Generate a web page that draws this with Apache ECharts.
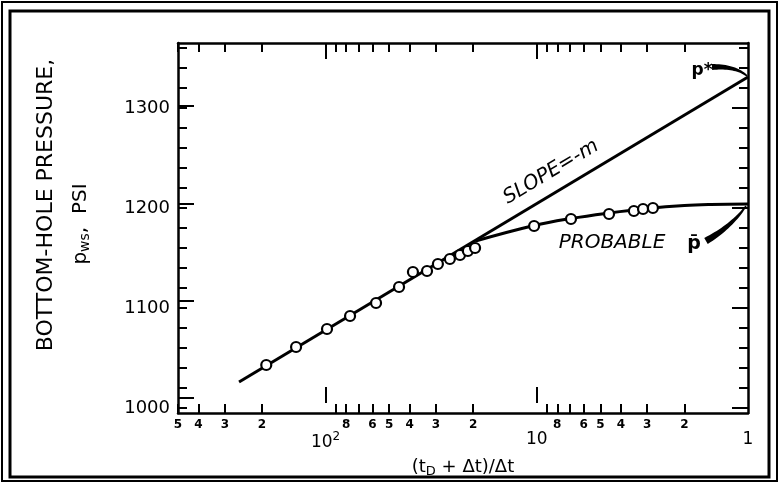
<!DOCTYPE html>
<html><head><meta charset="utf-8">
<script src="https://cdn.jsdelivr.net/npm/echarts@6/dist/echarts.min.js"></script>
<style>html,body{margin:0;padding:0;background:#fff}#c{width:779px;height:483px}</style>
</head><body><div id="c"></div>
<script>
// ---- data ----
const pointX = [191, 138, 98.5, 76.6, 57.7, 44.9, 38.6, 33.1, 29.4, 25.8, 23.1, 21.2, 19.6, 10.3, 6.89, 4.55, 3.47, 3.14, 2.82];
const pointY = [1043, 1061, 1079, 1092, 1105, 1121, 1136, 1137, 1144, 1149, 1153, 1157, 1160, 1182, 1189, 1194, 1197, 1199, 1200];
const slopeLineX = [257, 1];
const slopeLineY = [1026, 1331];
const probableX = [19.5, 10.3, 6.9, 4.55, 3.0, 2.0, 1.5, 1];
const probableY = [1167, 1182.5, 1189.5, 1195, 1199.5, 1202.5, 1203.5, 1204];
const xMinorTicks = [500, 400, 300, 200, 90, 80, 70, 60, 50, 40, 30, 20, 9, 8, 7, 6, 5, 4, 3, 2];
const xMinorLabels = [500, 400, 300, 200, 80, 60, 50, 40, 30, 20, 8, 6, 5, 4, 3, 2];
const xMajorTicks = [100, 10];
const xMajorLabels = [100, 10, 1];
const yMinorTicks = [1000, 1020, 1040, 1060, 1080, 1100, 1120, 1140, 1160, 1180, 1200, 1220, 1240, 1260, 1280, 1300, 1320, 1340, 1360];
const yMajorTicks = [1000, 1100, 1200, 1300];
const yLabels = [1000, 1100, 1200, 1300];
const pStar = [1, 1331];
const pBar = [1, 1204];

const ink = '#000';
const FONT = 'DejaVu Sans';
const chart = echarts.init(document.getElementById('c'));
const G = {left: 178, top: 43, width: 570, height: 370, containLabel: false};
const grids = [0, 1, 2, 3].map(() => Object.assign({}, G));

function leadDigit(v) {
  const e = Math.floor(Math.log10(v) + 1e-9);
  return String(Math.round(v / Math.pow(10, e)));
}
function decadeFmt(v) {
  const r = Math.round(v);
  if (r === 100) return '{b|10}{sup|2}';
  return '{b|' + r + '}';
}
const tickLine = {color: ink, width: 2};
function xAx(idx, pos, line, tickVals, len, label) {
  return {
    type: 'log', logBase: 10, min: 1, max: 500, inverse: true, gridIndex: idx, position: pos,
    axisLine: {show: line, lineStyle: {color: ink, width: 2.5}},
    axisTick: {show: true, inside: true, length: len, customValues: tickVals, lineStyle: tickLine},
    axisLabel: label || {show: false},
    splitLine: {show: false}, minorTick: {show: false}, minorSplitLine: {show: false}
  };
}
function yAx(idx, pos, line, tickVals, len, label) {
  return {
    type: 'value', min: 995, max: 1365, gridIndex: idx, position: pos,
    axisLine: {show: line, lineStyle: {color: ink, width: 2.5}},
    axisTick: {show: true, inside: true, length: len, customValues: tickVals, lineStyle: tickLine},
    axisLabel: label || {show: false},
    splitLine: {show: false}
  };
}

const option = {
  animation: false,
  backgroundColor: '#fff',
  grid: grids,
  xAxis: [
    xAx(0, 'bottom', true, xMinorTicks, 9, {show: true, customValues: xMinorLabels, formatter: leadDigit, margin: 6,
      fontSize: 12, fontWeight: 'bold', color: ink, fontFamily: FONT}),
    Object.assign(xAx(1, 'bottom', false, xMajorTicks, 16, {show: true, customValues: xMajorLabels, formatter: decadeFmt, margin: 28,
      rich: {b: {fontSize: 17, color: ink, fontFamily: FONT}, sup: {fontSize: 12, color: ink, fontFamily: FONT, padding: [0, 0, 12, 0]}}}),
      {name: '(t{s|D} + Δt)/Δt', nameLocation: 'middle', nameGap: 54,
       nameTextStyle: {fontSize: 18, color: ink, fontFamily: FONT, rich: {s: {fontSize: 13, color: ink, fontFamily: FONT, padding: [8, 0, 0, 0]}}}}),
    xAx(2, 'top', true, xMinorTicks, 9),
    xAx(3, 'top', false, xMajorTicks, 16)
  ],
  yAxis: [
    yAx(0, 'left', true, yMinorTicks, 9, {show: true, customValues: yLabels, formatter: v => String(Math.round(v)), margin: 8, fontSize: 18, color: ink, fontFamily: FONT}),
    yAx(1, 'left', false, yMajorTicks, 16),
    yAx(2, 'right', true, yMinorTicks, 9),
    yAx(3, 'right', false, yMajorTicks, 16)
  ],
  series: [
    {type: 'line', xAxisIndex: 0, yAxisIndex: 0, data: slopeLineX.map((x, i) => [x, slopeLineY[i]]),
     showSymbol: false, lineStyle: {color: ink, width: 3}, z: 2},
    {type: 'line', xAxisIndex: 0, yAxisIndex: 0, data: probableX.map((x, i) => [x, probableY[i]]),
     smooth: 0.4, showSymbol: false, lineStyle: {color: ink, width: 3}, z: 2},
    {type: 'scatter', xAxisIndex: 0, yAxisIndex: 0, data: pointX.map((x, i) => [x, pointY[i]]),
     symbol: 'circle', symbolSize: 10, itemStyle: {color: '#fff', borderColor: ink, borderWidth: 2.2, opacity: 1}, z: 3}
  ]
};
chart.setOption(option);

function wedge(p0, c, p1, w0, w1) {
  const N = 20, L = [], R = [];
  for (let i = 0; i <= N; i++) {
    const t = i / N, u = 1 - t;
    const x = u * u * p0[0] + 2 * u * t * c[0] + t * t * p1[0];
    const y = u * u * p0[1] + 2 * u * t * c[1] + t * t * p1[1];
    let dx = 2 * u * (c[0] - p0[0]) + 2 * t * (p1[0] - c[0]);
    let dy = 2 * u * (c[1] - p0[1]) + 2 * t * (p1[1] - c[1]);
    const d = Math.hypot(dx, dy) || 1; dx /= d; dy /= d;
    const w = (w0 + (w1 - w0) * t) / 2;
    L.push([x - dy * w, y + dx * w]);
    R.push([x + dy * w, y - dx * w]);
  }
  return L.concat(R.reverse());
}
const tS = chart.convertToPixel({gridIndex: 0}, pStar);
const tB = chart.convertToPixel({gridIndex: 0}, pBar);

chart.setOption({
  graphic: [
    {type: 'rect', silent: true, shape: {x: 2, y: 2, width: 775, height: 479}, style: {fill: null, stroke: '#000', lineWidth: 2}},
    {type: 'rect', silent: true, shape: {x: 10, y: 11, width: 759, height: 466}, style: {fill: null, stroke: '#000', lineWidth: 3}},
    {type: 'text', x: 46, y: 205, rotation: Math.PI / 2,
     style: {text: 'BOTTOM-HOLE PRESSURE,', font: '22px "DejaVu Sans"', fill: ink, align: 'center', verticalAlign: 'middle'}},
    {type: 'text', x: 81, y: 224, rotation: Math.PI / 2,
     style: {text: '{a|p}{s|ws}{a|,  PSI}', fill: ink, align: 'center', verticalAlign: 'middle',
       rich: {a: {fontSize: 20, fontFamily: FONT, fill: ink}, s: {fontSize: 14, fontFamily: FONT, fill: ink, padding: [8, 0, 0, 0]}}}},
    {type: 'text', x: 551, y: 172, rotation: 0.54,
     style: {text: 'SLOPE=-m', font: 'italic 20px "DejaVu Sans"', fill: ink, align: 'center', verticalAlign: 'middle'}},
    {type: 'text', x: 612, y: 243,
     style: {text: 'PROBABLE', font: 'italic 20px "DejaVu Sans"', fill: ink, align: 'center', verticalAlign: 'middle'}},
    {type: 'text', x: 694, y: 244,
     style: {text: 'p\u0304', font: 'bold 19px "DejaVu Sans"', fill: ink, align: 'center', verticalAlign: 'middle'}},
    {type: 'text', x: 702, y: 71,
     style: {text: 'p*', font: 'bold 17px "DejaVu Sans"', fill: ink, align: 'center', verticalAlign: 'middle'}},
    {type: 'polygon', silent: true, shape: {points: wedge([tS[0] - 36, tS[1] - 10], [tS[0] - 12, tS[1] - 11], [tS[0] - 1, tS[1] - 1], 6, 1.5)}, style: {fill: ink}},
    {type: 'polygon', silent: true, shape: {points: wedge([tB[0] - 42, tB[1] + 37], [tB[0] - 16, tB[1] + 22], [tB[0] - 2, tB[1] + 2], 7, 1.5)}, style: {fill: ink}}
  ]
});
</script>
</body></html>
